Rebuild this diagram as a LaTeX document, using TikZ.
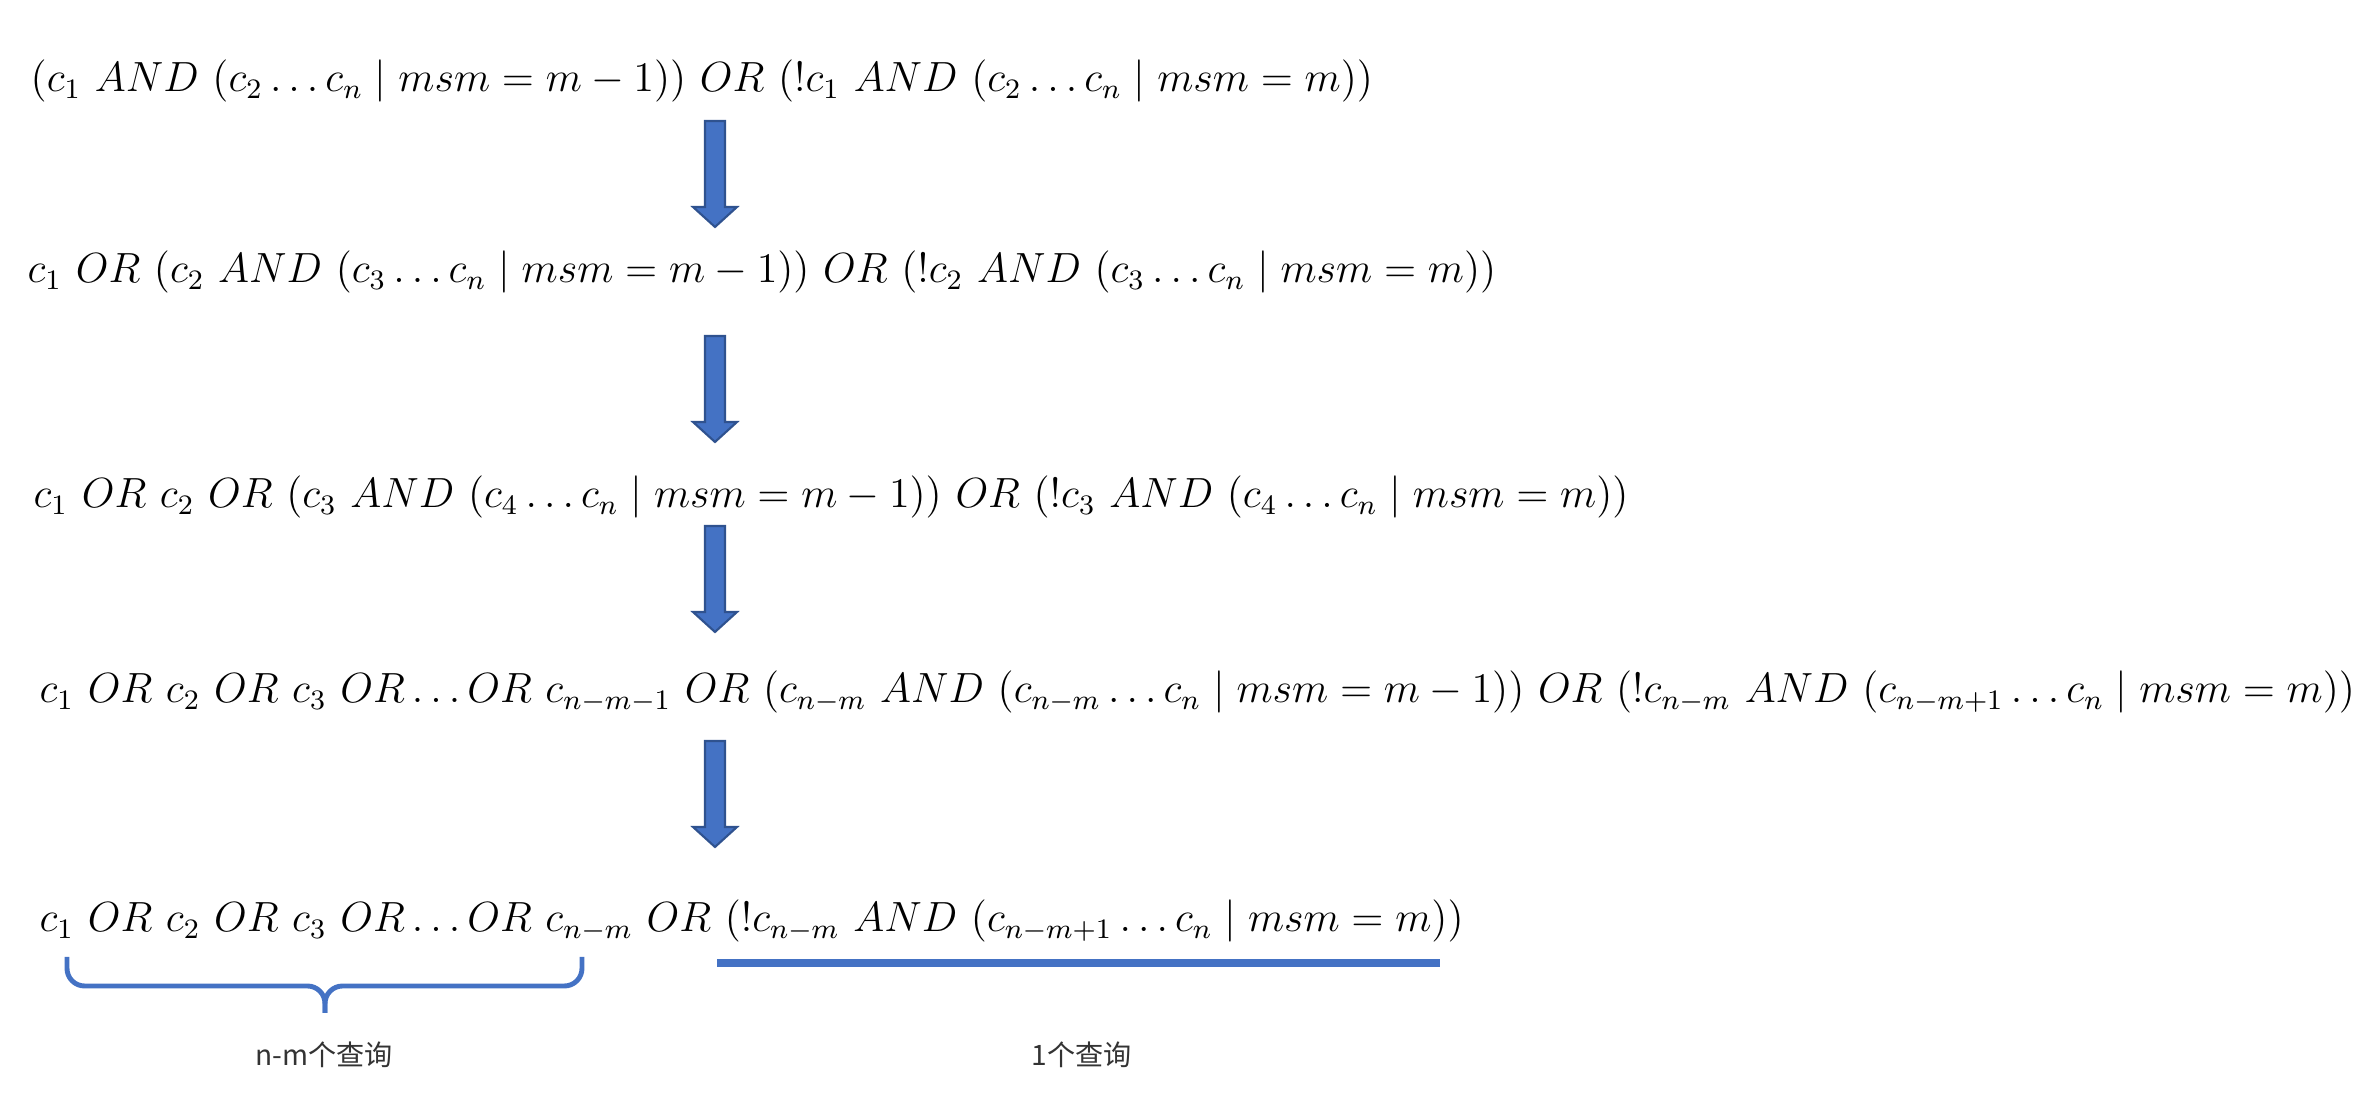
\documentclass[tikz,border=0pt]{standalone}
\usepackage{fontspec}
\usepackage{tikz}
\newfontfamily\cjk{Noto Sans CJK SC}
\definecolor{QBlue}{RGB}{68,114,196}
\definecolor{QBlueDark}{RGB}{47,82,143}
\definecolor{QText}{RGB}{51,51,51}
\begin{document}
\begin{tikzpicture}[
  x=0.01cm, y=-0.01cm,
  row/.style={anchor=base west,inner sep=0pt,font=\fontsize{11.9}{14}\selectfont},
  pics/downarrow/.style={code={
    \draw[draw=QBlueDark,fill=QBlue,line width=0.6pt]
      (-10,-53) -- (10,-53) -- (10,33) -- (22,33) -- (0,53) -- (-22,33) -- (-10,33) -- cycle;}},
  brace/.style={draw=QBlue,line width=1.4pt,rounded corners=5pt},
  uline/.style={draw=QBlue,line width=2pt},
  note/.style={font=\cjk\fontsize{8}{10}\selectfont,text=QText,inner sep=0pt}
]
\useasboundingbox (0,0) rectangle (2368,1104);
% rows
\node[row] (r1) at (30,92) {$(c_1\ AND\ (c_2 \ldots c_n \mid msm = m-1))\ OR\ (!c_1\ AND\ (c_2 \ldots c_n \mid msm = m))$};
\node[row] (r2) at (27,283) {$c_1\ OR\ (c_2\ AND\ (c_3 \ldots c_n \mid msm = m-1))\ OR\ (!c_2\ AND\ (c_3 \ldots c_n \mid msm = m))$};
\node[row] (r3) at (33,508) {$c_1\ OR\ c_2\ OR\ (c_3\ AND\ (c_4 \ldots c_n \mid msm = m-1))\ OR\ (!c_3\ AND\ (c_4 \ldots c_n \mid msm = m))$};
\node[row] (r4) at (39,703) {$c_1\ OR\ c_2\ OR\ c_3\ OR \ldots OR\ c_{n-m-1}\ OR\ (c_{n-m}\ AND\ (c_{n-m} \ldots c_n \mid msm = m-1))\ OR\ (!c_{n-m}\ AND\ (c_{n-m+1} \ldots c_n \mid msm = m))$};
\node[row] (r5) at (39,932) {$c_1\ OR\ c_2\ OR\ c_3\ OR \ldots OR\ c_{n-m}\ OR\ (!c_{n-m}\ AND\ (c_{n-m+1} \ldots c_n \mid msm = m))$};
% arrows between rows
\pic (a1) at (715,174) {downarrow};
\pic (a2) at (715,389) {downarrow};
\pic (a3) at (715,579) {downarrow};
\pic (a4) at (715,794) {downarrow};
% brace and underline
\coordinate (bl) at (67,957);
\coordinate (br) at (582,957);
\coordinate (bt) at (325,1013);
\draw[brace] (bl) -- (bl |- 0,986) -- (bt |- 0,986) -- (bt);
\draw[brace] (br) -- (br |- 0,986) -- (bt |- 0,986) -- (bt);
\coordinate (ul) at (717,963);
\coordinate (ur) at (1440,963);
\draw[uline] (ul) -- (ur);
\node[note] (n1) at (324,1055) {n-m个查询};
\node[note] (n2) at (1082,1055) {1个查询};
\end{tikzpicture}
\end{document}
